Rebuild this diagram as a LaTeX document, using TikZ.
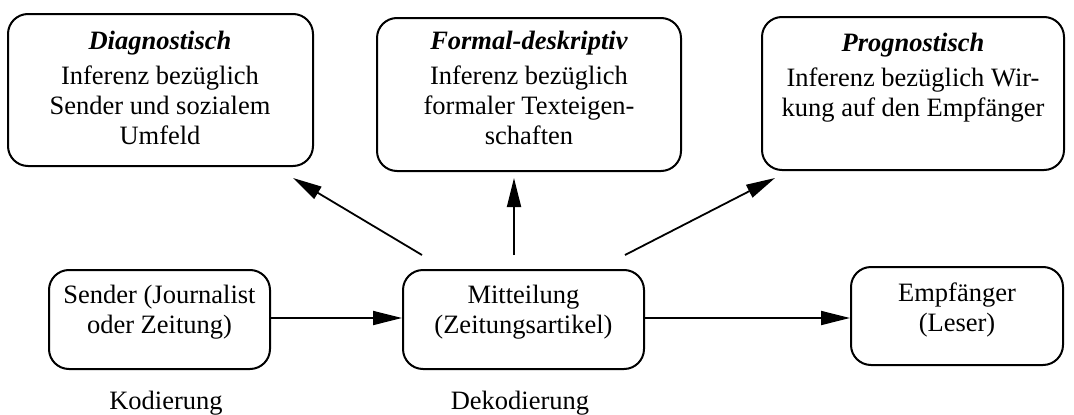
\documentclass[tikz,border=0pt]{standalone}
\usepackage{fontspec}
\setmainfont{Liberation Serif}
\usetikzlibrary{arrows.meta}
\begin{document}
\begin{tikzpicture}[x=1pt,y=-1pt,
  box/.style={draw, line width=2pt, rounded corners=20pt, inner sep=0pt},
  txt/.style={align=center, inner sep=0pt, anchor=north, font=\fontsize{26.5}{30}\selectfont},
  arr/.style={line width=1.8pt, -{Triangle[length=29pt,width=14pt]}}]
\useasboundingbox (0,0) rectangle (1074,415);
% top boxes
\node[box, minimum width=305pt, minimum height=152pt] (d) at (160.5,90) {};
\node[box, minimum width=304pt, minimum height=153pt] (f) at (529,94.5) {};
\node[box, minimum width=302pt, minimum height=153pt] (p) at (913,93.5) {};
\node[txt] (dt) at (160,31) {\textbf{\textit{Diagnostisch}}\\[5pt] Inferenz bezüglich\\ Sender und sozialem\\ Umfeld};
\node[txt] (ft) at (529,31) {\textbf{\textit{Formal-deskriptiv}}\\[5pt] Inferenz bezüglich\\ formaler Texteigen-\\ schaften};
\node[txt] (pt) at (913,33) {\textbf{\textit{Prognostisch}}\\[5pt] Inferenz bezüglich Wir-\\ kung auf den Empfänger};
% bottom boxes
\node[box, minimum width=221pt, minimum height=99pt] (s) at (159.5,319.5) {};
\node[box, minimum width=241pt, minimum height=99pt] (m) at (523.5,319.5) {};
\node[box, minimum width=212pt, minimum height=98pt] (e) at (957,316) {};
\node[txt] (st) at (159.5,285) {Sender (Journalist\\ oder Zeitung)};
\node[txt] (mt) at (523.5,285) {Mitteilung\\ (Zeitungsartikel)};
\node[txt] (et) at (957,283) {Empfänger\\ (Leser)};
% labels
\node[txt] (kod) at (166,391) {Kodierung};
\node[txt] (dek) at (520,391) {Dekodierung};
% arrows
\coordinate (a1s) at (422,255);
\coordinate (a1e) at (293,178);
\coordinate (a2s) at (514,255);
\coordinate (a2e) at (514,178);
\coordinate (a3s) at (625,255);
\coordinate (a3e) at (775,178);
\draw[arr] (a1s) -- (a1e);
\draw[arr] (a2s) -- (a2e);
\draw[arr] (a3s) -- (a3e);
\draw[arr] ([yshift=1.5pt]s.east) -- ([yshift=1.5pt]m.west);
\draw[arr] ([yshift=1.5pt]m.east) -- ([yshift=1.5pt]m.east -| e.west);
\end{tikzpicture}
\end{document}
